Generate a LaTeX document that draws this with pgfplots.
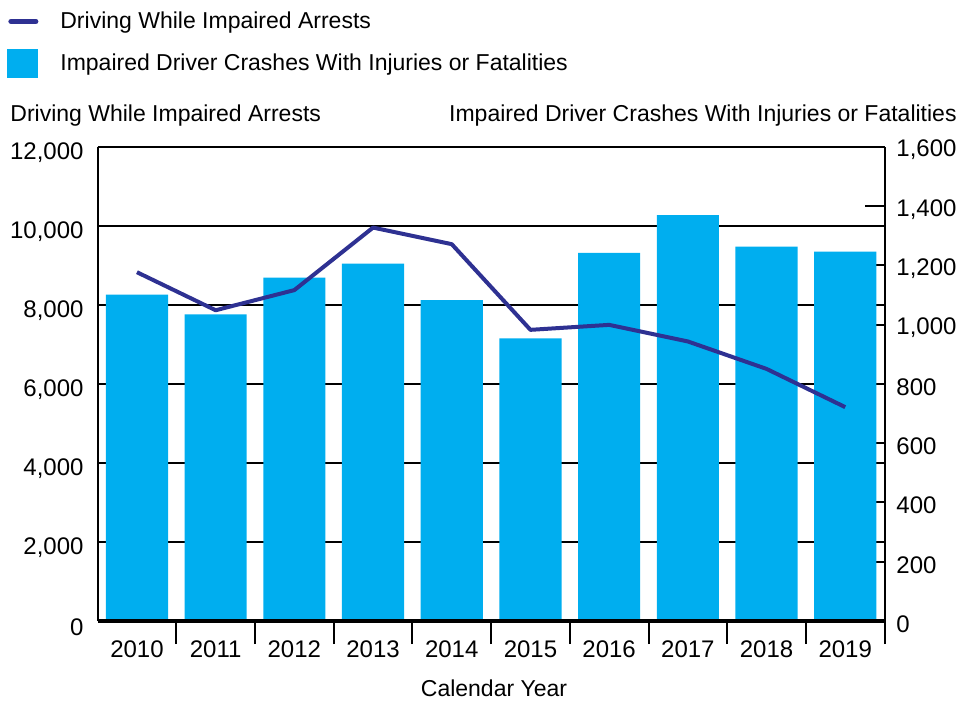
\documentclass[border=0pt]{standalone}
\usepackage{fontspec}
\setmainfont{Liberation Sans}
\usepackage{pgfplots}
\pgfplotsset{compat=1.18}
\definecolor{barcyan}{RGB}{0,174,239}
\definecolor{linenavy}{RGB}{46,49,146}

\begin{document}
\begin{tikzpicture}
\useasboundingbox (-48.8pt,-39.5pt) rectangle (431.7pt,310.5pt);
\pgfplotsset{
  common/.style={
    width=393.5pt, height=237pt, scale only axis,
    xmin=-0.5, xmax=9.5,
    at={(0pt,0pt)}, anchor=south west,
    scaled ticks=false,
    /pgf/number format/assume math mode=true,
    /pgf/number format/1000 sep={,},
    tick label style={font=\fontsize{12}{14}\selectfont},
  }
}
% Axis A: grid, left axis, x labels
\begin{axis}[common,
  ymin=0, ymax=12000,
  ytick={0,2000,...,12000},
  axis y line*=left, axis x line*=bottom,
  axis line style={-, black, line width=1pt},
  ymajorgrids, grid style={black, line width=1pt},
  major tick length=0pt,
  xtick={0,...,9},
  xticklabels={2010,2011,2012,2013,2014,2015,2016,2017,2018,2019},
  minor xtick={0.5,1.5,...,9.5},
  minor tick length=11.5pt,
  xtick align=outside,
  minor tick style={black, line width=1pt},
  xticklabel style={yshift=-6.5pt},
  yticklabel style={xshift=-3.5pt, yshift=-3pt},
]
\end{axis}
% Axis B: bars, right axis
\begin{axis}[common,
  ymin=0, ymax=1600, ytick={0,200,...,1600},
  axis y line*=right, axis x line=none,
  axis line style={-, black, line width=1pt},
  ytick align=inside, major tick length=10pt,
  tick style={black, line width=1pt},
  xtick=\empty,
  yticklabel style={xshift=2.4pt, yshift=-1.5pt},
]
\addplot[ybar, bar width=0.79, fill=barcyan, draw=none] coordinates {
(0,1102) (1,1035) (2,1159) (3,1206) (4,1083) (5,954) (6,1243) (7,1370) (8,1264) (9,1247)};
\end{axis}
% Axis C: line, bottom axis line, legend
\begin{axis}[common,
  ymin=0, ymax=12000,
  axis x line*=bottom, axis y line=none,
  x axis line style={-, black, line width=2pt},
  xtick=\empty, ytick=\empty,
  legend style={draw=none, fill=none, at={(axis description cs:-0.115,1.295)}, anchor=north west,
    font=\fontsize{11.5}{13}\selectfont, row sep=7pt, inner sep=0pt,
    /tikz/every odd column/.style={column sep=9pt}},
  legend cell align=left,
]
\addplot[linenavy, line width=2pt, line join=round,
  legend image code/.code={\draw[linenavy, line width=2.5pt, line cap=round] (1.5pt,0pt) -- (14pt,0pt);}]
  coordinates {(0,8830) (1,7867) (2,8377) (3,9960) (4,9540) (5,7371) (6,7497) (7,7077) (8,6382) (9,5414)};
\addlegendentry{Driving While Impaired Arrests}
\addlegendimage{legend image code/.code={\fill[barcyan] (0pt,-7pt) rectangle (15pt,7pt);}}
\addlegendentry{Impaired Driver Crashes With Injuries or Fatalities}
\end{axis}
\node[anchor=west, inner sep=0pt, font=\fontsize{11.5}{13}\selectfont] at (-43.8pt,252.5pt) {Driving While Impaired Arrests};
\node[anchor=east, inner sep=0pt, font=\fontsize{11.5}{13}\selectfont] at (429.7pt,252.5pt) {Impaired Driver Crashes With Injuries or Fatalities};
\node[inner sep=0pt, font=\fontsize{11.5}{13}\selectfont] at (198.2pt,-33.5pt) {Calendar Year};
\end{tikzpicture}
\end{document}
